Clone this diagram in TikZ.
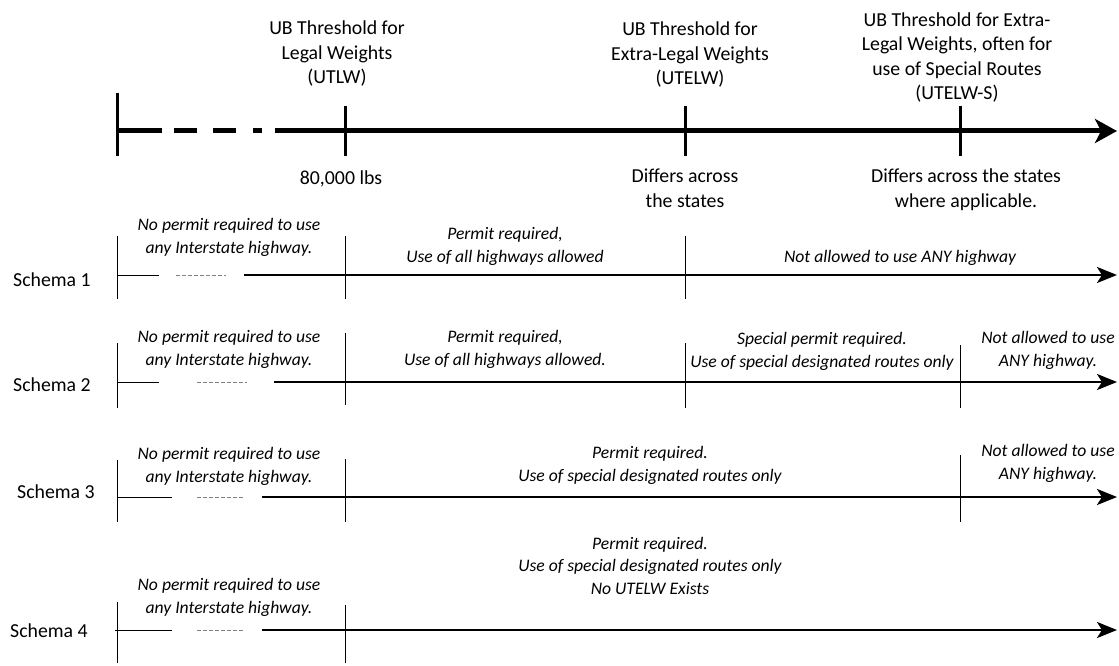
\documentclass[tikz,border=0pt]{standalone}
\usepackage{fontspec}
\setmainfont{Carlito}
\usetikzlibrary{arrows.meta}

\begin{document}
\begin{tikzpicture}[x=1pt, y=-1pt,
		head/.style={font=\fontsize{19.8}{24.6}\selectfont, align=center, inner sep=0pt, anchor=base},
		note/.style={font=\fontsize{17.6}{22.5}\selectfont\itshape, align=center, inner sep=0pt, anchor=base},
		axis/.style={line width=5pt, -{Stealth[length=22pt, width=24pt, inset=6pt]}},
		bar/.style={line width=3pt},
		road/.style={line width=2.5pt, -{Stealth[length=20pt, width=16pt, inset=5pt]}},
		stub/.style={line width=0.9pt},
		gap/.style={line width=0.9pt, gray, dash pattern=on 4pt off 2pt}]
	\useasboundingbox (0,0) rectangle (1119,666);

	% weight axis
	\coordinate (a0) at (117,131);
	\coordinate (a1) at (275,131);
	\coordinate (a2) at (1117,131);
	\draw[line width=5pt, dash pattern=on 45pt off 12pt on 23pt off 16pt on 23pt off 17pt on 9pt off 13pt] (a0) -- (a1);
	\draw[axis] (a1) -- (a2);
	\draw[bar] (117,93) -- (117,156);
	\draw[bar] (345,106) -- (345,156);
	\draw[bar] (685,106) -- (685,156);
	\draw[bar] (960,106) -- (960,156);

	\node (utlw) at (337,84) [head] {UB Threshold for\\Legal Weights\\(UTLW)};
	\node (utelw) at (690,85) [head] {UB Threshold for\\Extra-Legal Weights\\(UTELW)};
	\node (utelws) at (957,100) [head] {UB Threshold for Extra-\\Legal Weights, often for\\use of Special Routes\\(UTELW-S)};
	\node (lbs) at (341,184) [head] {80,000 lbs};
	\node (diff) at (685,207) [head] {Differs across\\the states};
	\node (diffs) at (966,207) [head] {Differs across the states\\where applicable.};

	% schema 1
	\node (s1) at (13,286) [head, anchor=base west] {Schema 1};
	\coordinate (s1a) at (117,275);
	\coordinate (s1b) at (159,275);
	\coordinate (s1c) at (176,275);
	\coordinate (s1d) at (226,275);
	\coordinate (s1e) at (244,275);
	\coordinate (s1f) at (1117,275);
	\draw[stub] (s1a) -- (s1b);
	\draw[gap] (s1c) -- (s1d);
	\draw[road] (s1e) -- (s1f);
	\draw[stub] (117,236) -- (117,299);
	\draw[stub] (345,236) -- (345,299);
	\draw[stub] (685,236) -- (685,299);
	\node (s1free) at (229,253) [note] {No permit required to use\\any Interstate highway.};
	\node (s1perm) at (505,262) [note] {Permit required,\\Use of all highways allowed};
	\node (s1none) at (900,262) [note] {Not allowed to use ANY highway};

	% schema 2
	\node (s2) at (13,391) [head, anchor=base west] {Schema 2};
	\coordinate (s2a) at (117,382);
	\coordinate (s2b) at (159,382);
	\coordinate (s2c) at (197,382);
	\coordinate (s2d) at (247,382);
	\coordinate (s2e) at (274,382);
	\coordinate (s2f) at (1117,382);
	\draw[stub] (s2a) -- (s2b);
	\draw[gap] (s2c) -- (s2d);
	\draw[road] (s2e) -- (s2f);
	\draw[stub] (117,343) -- (117,408);
	\draw[stub] (345,333) -- (345,405);
	\draw[stub] (685,343) -- (685,408);
	\draw[stub] (960,345) -- (960,408);
	\node (s2free) at (229,365) [note] {No permit required to use\\any Interstate highway.};
	\node (s2perm) at (505,365) [note] {Permit required,\\Use of all highways allowed.};
	\node (s2spec) at (822,367) [note] {Special permit required.\\Use of special designated routes only};
	\node (s2none) at (1048,366) [note] {Not allowed to use\\ANY highway.};

	% schema 3
	\node (s3) at (17,498) [head, anchor=base west] {Schema 3};
	\coordinate (s3a) at (117,497);
	\coordinate (s3b) at (172,497);
	\coordinate (s3c) at (197,497);
	\coordinate (s3d) at (243,497);
	\coordinate (s3e) at (262,497);
	\coordinate (s3f) at (1117,497);
	\draw[stub] (s3a) -- (s3b);
	\draw[gap] (s3c) -- (s3d);
	\draw[road] (s3e) -- (s3f);
	\draw[stub] (117,460) -- (117,522);
	\draw[stub] (345,459) -- (345,522);
	\draw[stub] (960,455) -- (960,522);
	\node (s3free) at (229,482) [note] {No permit required to use\\any Interstate highway.};
	\node (s3perm) at (650,481) [note] {Permit required.\\Use of special designated routes only};
	\node (s3none) at (1048,479) [note] {Not allowed to use\\ANY highway.};

	% schema 4
	\node (s4) at (10,637) [head, anchor=base west] {Schema 4};
	\coordinate (s4a) at (115,630);
	\coordinate (s4b) at (172,630);
	\coordinate (s4c) at (197,630);
	\coordinate (s4d) at (243,630);
	\coordinate (s4e) at (262,630);
	\coordinate (s4f) at (1117,630);
	\draw[stub] (s4a) -- (s4b);
	\draw[gap] (s4c) -- (s4d);
	\draw[road] (s4e) -- (s4f);
	\draw[stub] (117,602) -- (117,663);
	\draw[stub] (345,605) -- (345,663);
	\node (s4free) at (229,613) [note] {No permit required to use\\any Interstate highway.};
	\node (s4perm) at (650,594) [note] {Permit required.\\Use of special designated routes only\\No UTELW Exists};
\end{tikzpicture}
\end{document}
